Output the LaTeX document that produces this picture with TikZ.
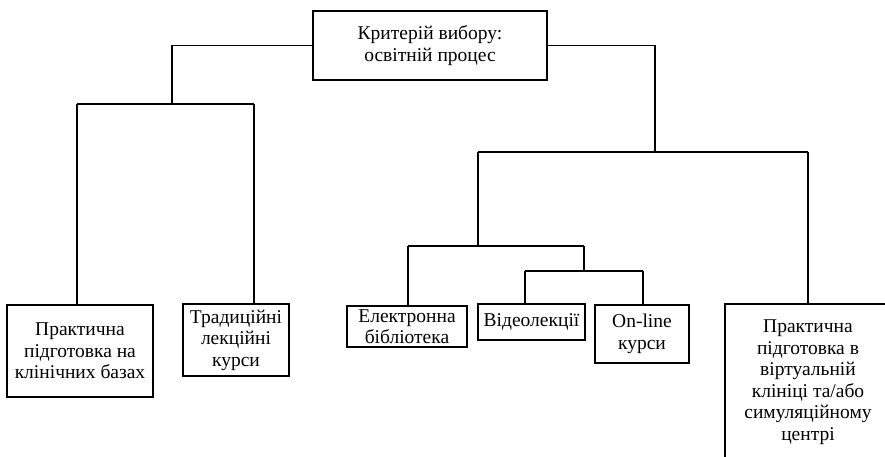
\documentclass[tikz,border=0pt]{standalone}
\usepackage{fontspec}
\setmainfont{Liberation Serif}
\begin{document}
\begin{tikzpicture}[x=1pt,y=-1pt,
  box/.style={draw,line width=1.1pt,align=center,inner sep=0pt,font=\fontsize{19.5}{21.5}\selectfont},
  link/.style={line width=1.1pt}]
\clip (0,0) rectangle (885,456);
\node[box,minimum width=234,minimum height=69] (top) at (430,45.5) {Критерій вибору:\\освітній процес};
\node[box,minimum width=146,minimum height=92] (pk) at (80,351) {Практична\\підготовка на\\клінічних базах};
\node[box,minimum width=106,minimum height=72] (tl) at (236,340) {Традиційні\\лекційні\\курси};
\node[box,minimum width=120,minimum height=41] (eb) at (407,326.5) {Електронна\\бібліотека};
\node[box,minimum width=107,minimum height=36] (vl) at (531.5,322) {Відеолекції};
\node[box,minimum width=94,minimum height=58] (ol) at (642,334) {On-line\\курси};
\node[box,minimum width=166,minimum height=156] (vk) at (808,382) {Практична\\підготовка в\\віртуальній\\клініці та/або\\симуляційному\\центрі};
% left branch
\coordinate (a1) at (172,45.5);
\coordinate (a2) at (172,104);
\coordinate (a3) at (77,104);
\coordinate (a4) at (254,104);
\draw[link] (top.west) -- (a1) -- (a2);
\draw[link] (a3) -- (a4);
\draw[link] (a3) -- (a3 |- pk.north);
\draw[link] (a4) -- (a4 |- tl.north);
% right branch
\coordinate (b1) at (655,45.5);
\coordinate (b2) at (655,152);
\coordinate (b3) at (478,152);
\coordinate (b4) at (808,152);
\draw[link] (top.east) -- (b1) -- (b2);
\draw[link] (b3) -- (b4);
\draw[link] (b4) -- (vk.north);
\coordinate (c1) at (478,246);
\coordinate (c2) at (408,246);
\coordinate (c3) at (584,246);
\draw[link] (b3) -- (c1);
\draw[link] (c2) -- (c3);
\draw[link] (c2) -- (c2 |- eb.north);
\coordinate (d1) at (584,271);
\coordinate (d2) at (525,271);
\coordinate (d3) at (643,271);
\draw[link] (c3) -- (d1);
\draw[link] (d2) -- (d3);
\draw[link] (d2) -- (d2 |- vl.north);
\draw[link] (d3) -- (d3 |- ol.north);
\end{tikzpicture}
\end{document}
